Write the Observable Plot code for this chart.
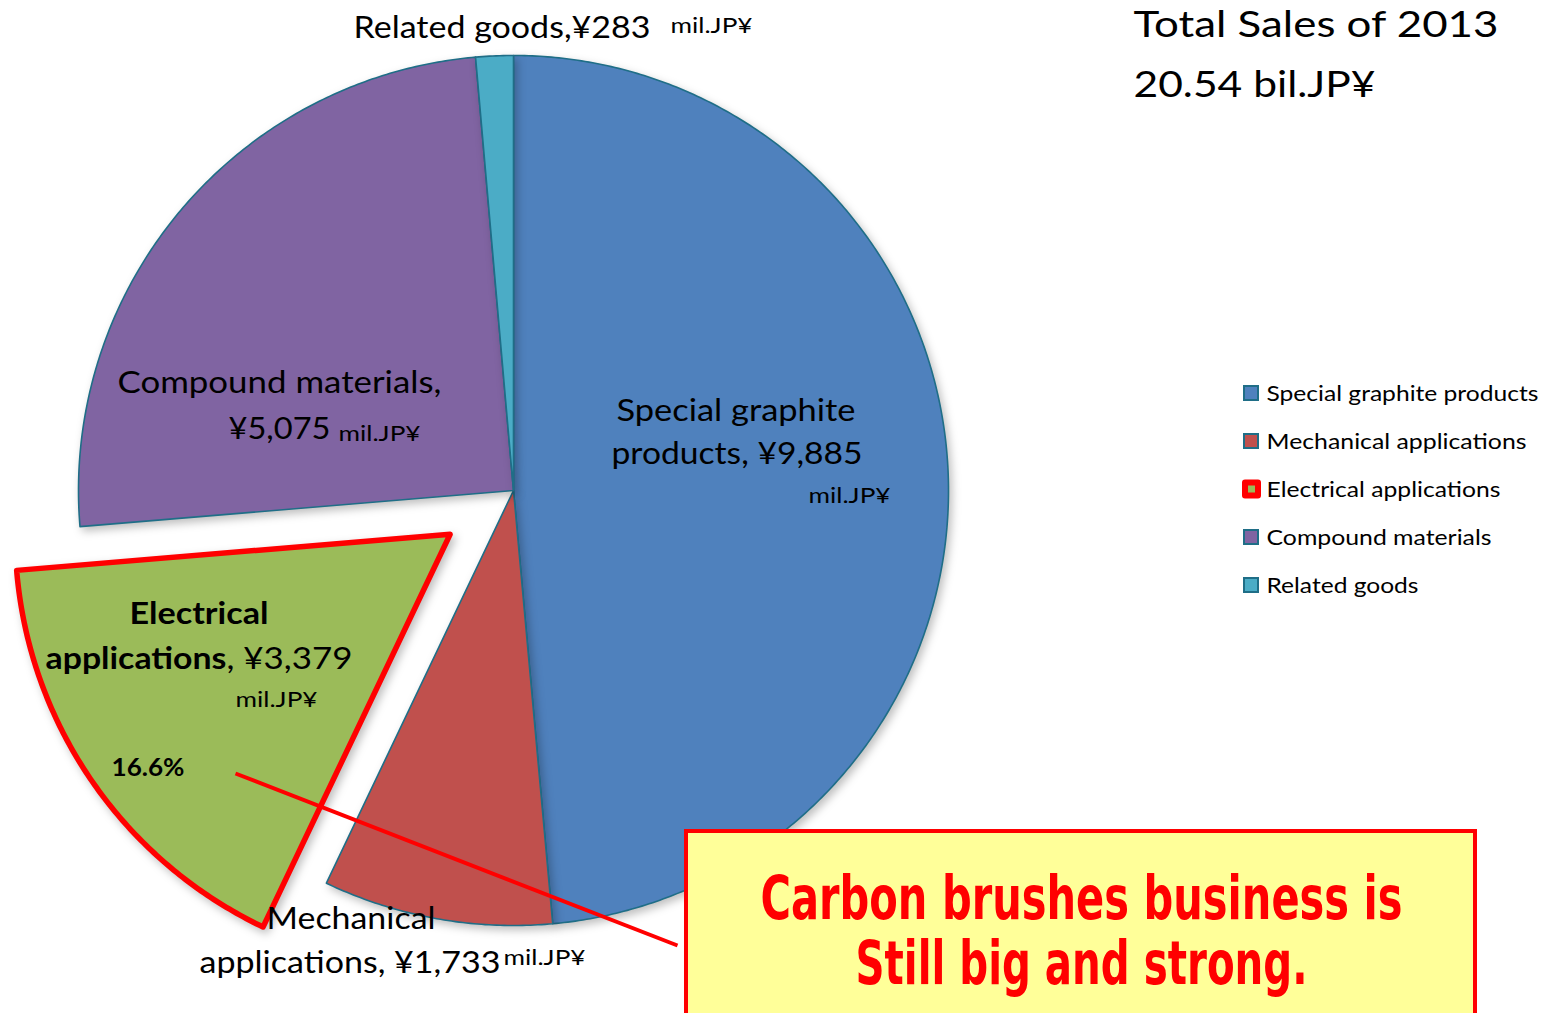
<!DOCTYPE html>
<html><head><meta charset="utf-8">
<script src="https://cdn.jsdelivr.net/npm/d3@7"></script>
<script src="https://cdn.jsdelivr.net/npm/@observablehq/plot@0.6"></script>
<style>
html,body{margin:0;padding:0;background:#fff;overflow:hidden}
#chart{position:relative;width:1553px;height:1013px}
</style></head><body><div id="chart"></div>
<script>
// ---- data ----
const categories = ["Special graphite products","Mechanical applications","Electrical applications","Compound materials","Related goods"];
const sales = [9885, 1733, 3379, 5075, 283];
const colors = ["#4f81bd","#c0504d","#9bbb59","#8064a2","#4bacc6"];
const exploded = [false,false,true,false,false];
const titleLines = ["Total Sales of 2013","20.54 bil.JP¥"];
const calloutLines = ["Carbon brushes business is","Still big and strong."];
const unitLabel = "mil.JP¥";
const shareLabel = "16.6%";

// ---- layout ----
const W = 1553, H = 1013, cx = 513, cy = 490, R = 435, explodeDist = 77;
const edge = "#1f6e87";
const LBL = "Lato, 'Open Sans', sans-serif";
const NARROW = "'Liberation Sans Narrow', 'DejaVu Sans Condensed', sans-serif";

const arcs = d3.pie().sort(null).value(d => d)(sales);
const slices = arcs.map((a, i) => {
  const mid = (a.startAngle + a.endAngle) / 2;
  const ox = exploded[i] ? explodeDist * Math.sin(mid) : 0;
  const oy = exploded[i] ? -explodeDist * Math.cos(mid) : 0;
  const pts = [{x: cx + ox, y: cy + oy}];
  const n = Math.max(2, Math.ceil((a.endAngle - a.startAngle) / (Math.PI / 360)));
  for (let k = 0; k <= n; k++) {
    const t = a.startAngle + (a.endAngle - a.startAngle) * k / n;
    pts.push({x: cx + ox + R * Math.sin(t), y: cy + oy - R * Math.cos(t)});
  }
  return {i, pts};
});

const fmt = v => "¥" + d3.format(",")(v);

const sliceMarks = [];
slices.filter(s => !exploded[s.i]).forEach(s => {
  sliceMarks.push(Plot.line(s.pts, {x: "x", y: "y", curve: "linear-closed", fill: colors[s.i], stroke: edge, strokeWidth: 1.6}));
});
slices.filter(s => exploded[s.i]).forEach(s => {
  sliceMarks.push(Plot.line(s.pts, {x: "x", y: "y", curve: "linear-closed", fill: colors[s.i], stroke: "#ff0000", strokeWidth: 5.5, strokeLinejoin: "round"}));
});

// text widths measured on the reference (px), applied after rendering
const fitWidths = new Map();
function t(text, x, y, w, o = {}) {
  if (w) fitWidths.set(text, w);
  return Plot.text([text], {x: () => x, y: () => y, text: d => d, lineAnchor: "bottom",
    fontSize: o.size ?? 31, fontWeight: o.weight ?? "normal", textAnchor: o.anchor ?? "start",
    fill: o.fill ?? "#000", fontFamily: o.family ?? LBL});
}

const labelMarks = [
  t(categories[4] + "," + fmt(sales[4]), 353, 37, 297),
  t(unitLabel, 670, 32, 82, {size: 22}),
  t("Compound materials,", 117, 392, 324),
  t(fmt(sales[3]), 228, 438, 102),
  t(unitLabel, 338, 440, 82, {size: 22}),
  t("Special graphite", 616, 420, 239),
  t("products, " + fmt(sales[0]), 611, 463, 251),
  t(unitLabel, 808, 502, 82, {size: 22}),
  t("Electrical", 129, 623, 139, {weight: "bold"}),
  t("applications", 45, 668, 181, {weight: "bold"}),
  t(", " + fmt(sales[2]), 226, 668, 126),
  t(unitLabel, 235, 706, 82, {size: 22}),
  t(shareLabel, 111, 775, 73, {size: 24, weight: "bold"}),
  t("Mechanical", 266, 928, 169),
  t("applications, " + fmt(sales[1]), 199, 972, 301),
  t(unitLabel, 503, 964, 82, {size: 22}),
  t(titleLines[0], 1133, 36, 365, {size: 36}),
  t(titleLines[1], 1133, 96, 242, {size: 36}),
];

// legend
const legendWidths = [272, 260, 234, 225, 152];
categories.forEach((c, i) => fitWidths.set(c, legendWidths[i]));
const legendRows = categories.map((c, i) => ({c, i, yc: 393 + i * 48}));
const legendMarks = [
  Plot.rect(legendRows.filter(d => !exploded[d.i]), {x1: () => 1244, x2: () => 1258, y1: d => d.yc - 7, y2: d => d.yc + 7,
    fill: d => colors[d.i], stroke: edge, strokeWidth: 2}),
  Plot.rect(legendRows.filter(d => exploded[d.i]), {x1: () => 1245, x2: () => 1258, y1: d => d.yc - 6.5, y2: d => d.yc + 6.5,
    fill: d => colors[d.i], stroke: "#ff0000", strokeWidth: 6, strokeLinejoin: "round"}),
  Plot.text(legendRows, {x: () => 1266, y: d => d.yc, text: "c", textAnchor: "start", lineAnchor: "middle",
    fontSize: 22, fill: "#000", fontFamily: LBL})
];

// callout
fitWidths.set(calloutLines[0], 642);
fitWidths.set(calloutLines[1], 452);
const calloutMarks = [
  Plot.link([0], {x1: () => 235, y1: () => 773, x2: () => 677, y2: () => 945, stroke: "#ff0000", strokeWidth: 4}),
  Plot.rect([0], {x1: () => 686, x2: () => 1475, y1: () => 831, y2: () => 1030, fill: "#ffff99", stroke: "#ff0000", strokeWidth: 4}),
  Plot.text([calloutLines[0]], {x: () => 760, y: () => 918, text: d => d, lineAnchor: "bottom", textAnchor: "start",
    fontSize: 60, fontWeight: "bold", fill: "#ff0000", fontFamily: NARROW}),
  Plot.text([calloutLines[1]], {x: () => 855, y: () => 983, text: d => d, lineAnchor: "bottom", textAnchor: "start",
    fontSize: 60, fontWeight: "bold", fill: "#ff0000", fontFamily: NARROW}),
];

const chart = Plot.plot({
  width: W, height: H, margin: 0,
  x: {domain: [0, W], range: [0, W], axis: null},
  y: {domain: [0, H], range: [0, H], axis: null},
  style: {background: "#fff", overflow: "hidden"},
  marks: [...sliceMarks, ...labelMarks, ...legendMarks, ...calloutMarks]
});
document.getElementById("chart").appendChild(chart);

const svg = d3.select(chart);
svg.selectAll("text").each(function () {
  const w = fitWidths.get(this.textContent);
  if (w) { this.setAttribute("textLength", w); this.setAttribute("lengthAdjust", "spacingAndGlyphs"); }
});
// soft shadow under the pie
svg.selectAll("g[aria-label=line]").style("filter", "drop-shadow(3px 4px 4px rgba(0,0,0,0.25))");
</script></body></html>
